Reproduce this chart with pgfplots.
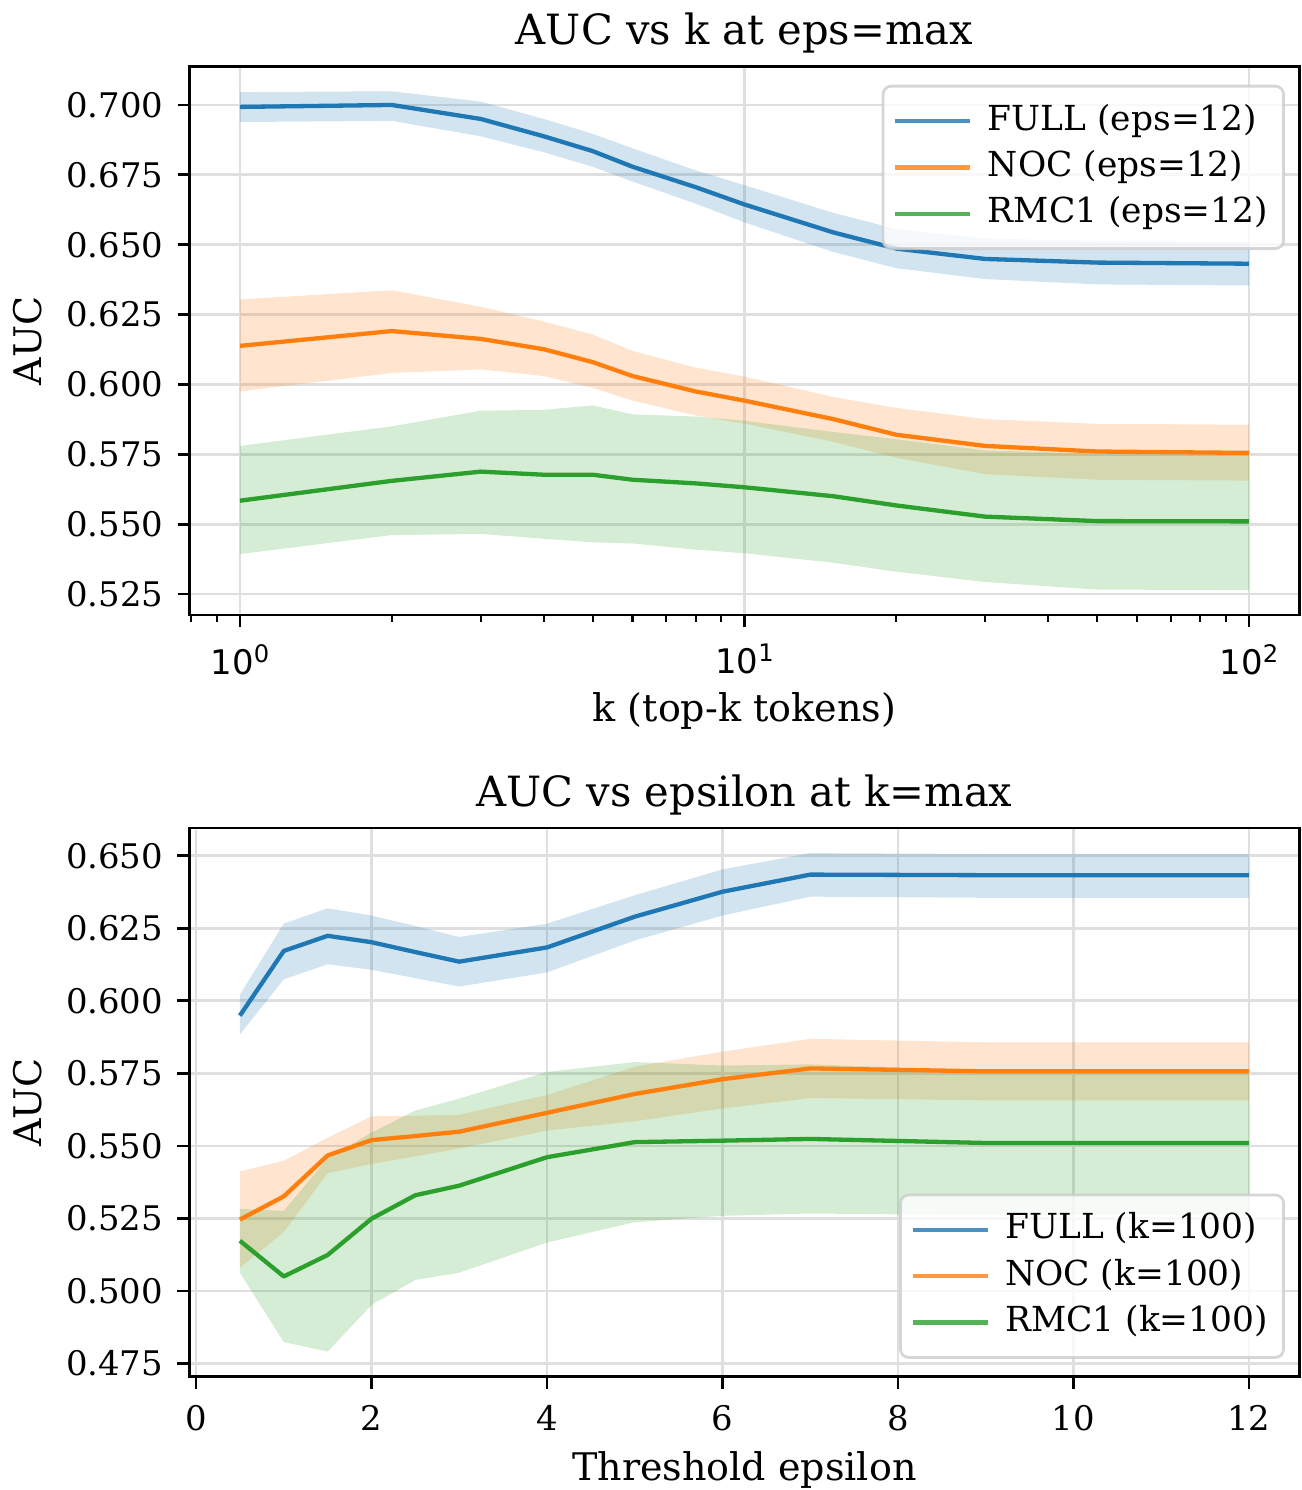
\documentclass[border=0pt]{standalone}
\usepackage{fontspec}
\setmainfont{DejaVu Serif}
\newfontfamily\dvsans{DejaVu Sans}
\usepackage{pgfplots}
\pgfplotsset{compat=1.18}
\usepackage{pgfplotstable}
\usepgfplotslibrary{fillbetween}

\definecolor{tblue}{HTML}{1F77B4}
\definecolor{torange}{HTML}{FF7F0E}
\definecolor{tgreen}{HTML}{2CA02C}
\definecolor{gridc}{HTML}{DFDFDF}
\definecolor{legc}{HTML}{CCCCCC}

\pgfplotstableread{
k fm fl fh nm nl nh rm rl rh
1 0.6993 0.6939 0.7046 0.6138 0.5975 0.6304 0.5584 0.5393 0.5780
2 0.7000 0.6943 0.7049 0.6191 0.6041 0.6337 0.5655 0.5461 0.5850
3 0.6950 0.6888 0.7012 0.6163 0.6054 0.6278 0.5688 0.5465 0.5906
4 0.6888 0.6831 0.6950 0.6126 0.6030 0.6225 0.5677 0.5448 0.5909
5 0.6835 0.6779 0.6897 0.6080 0.5988 0.6179 0.5677 0.5435 0.5925
6 0.6779 0.6726 0.6845 0.6030 0.5942 0.6120 0.5659 0.5431 0.5893
8 0.6706 0.6647 0.6766 0.5975 0.5889 0.6060 0.5646 0.5409 0.5885
10 0.6644 0.6580 0.6713 0.5942 0.5860 0.6028 0.5632 0.5396 0.5870
15 0.6544 0.6474 0.6614 0.5876 0.5795 0.5955 0.5600 0.5362 0.5830
20 0.6486 0.6416 0.6556 0.5820 0.5738 0.5916 0.5567 0.5330 0.5804
30 0.6449 0.6377 0.6522 0.5780 0.5679 0.5876 0.5527 0.5293 0.5764
50 0.6436 0.6358 0.6513 0.5760 0.5659 0.5859 0.5511 0.5266 0.5752
100 0.6432 0.6354 0.6510 0.5755 0.5656 0.5856 0.5510 0.5264 0.5755
}\topdata

\pgfplotstableread{
e fm fl fh nm nl nh rm rl rh
0.5 0.5949 0.5884 0.6021 0.5246 0.5080 0.5412 0.5173 0.5063 0.5283
1 0.6172 0.6074 0.6266 0.5326 0.5203 0.5449 0.5050 0.4824 0.5276
1.5 0.6224 0.6126 0.6319 0.5467 0.5406 0.5528 0.5124 0.4791 0.5457
2 0.6202 0.6107 0.6294 0.5520 0.5438 0.5602 0.5249 0.4952 0.5546
2.5 0.6168 0.6078 0.6258 0.5534 0.5464 0.5604 0.5330 0.5038 0.5622
3 0.6135 0.6049 0.6220 0.5549 0.5491 0.5607 0.5363 0.5063 0.5663
4 0.6184 0.6098 0.6266 0.5614 0.5553 0.5675 0.5461 0.5167 0.5755
5 0.6290 0.6208 0.6364 0.5679 0.5585 0.5773 0.5513 0.5237 0.5789
6 0.6376 0.6294 0.6453 0.5730 0.5629 0.5825 0.5518 0.5259 0.5777
7 0.6435 0.6359 0.6509 0.5767 0.5665 0.5869 0.5524 0.5267 0.5781
9 0.6433 0.6355 0.6506 0.5757 0.5657 0.5857 0.5510 0.5261 0.5759
12 0.6433 0.6355 0.6506 0.5757 0.5657 0.5857 0.5510 0.5261 0.5759
}\botdata

\pgfplotsset{
  mpl/.style={
    scale only axis, width=399.6pt, height=197.5pt,
    axis line style={line width=1pt},
    tick align=outside, tick pos=left,
    major tick length=4.3pt, minor tick length=2.5pt,
    every tick/.style={black, line width=1pt},
    every minor tick/.style={black, line width=0.75pt},
    grid=major, major grid style={gridc, line width=1pt},
    tick label style={font=\fontsize{12.2}{14}\selectfont, inner sep=0pt},
    xticklabel style={anchor=north, yshift=-6pt},
    yticklabel style={anchor=east, xshift=-5pt},
    /pgf/number format/assume math mode=true,
    yticklabel style={/pgf/number format/.cd, fixed, fixed zerofill, precision=3},
    label style={font=\fontsize{13.7}{16}\selectfont},
    title style={font=\fontsize{15}{18}\selectfont, at={(axis description cs:0.5,1)}, anchor=base, yshift=1.8pt},
    ylabel style={at={(axis description cs:-0.1329,0.5)}, anchor=base},
    legend cell align=left,
    legend image code/.code={\draw[#1, line width=1.55pt] (0pt,0pt) -- (27pt,0pt);},
    legend style={draw=legc, line width=1pt, rounded corners=3pt, fill=white,
      fill opacity=0.8, draw opacity=0.8, text opacity=1,
      font=\fontsize{12.4}{15}\selectfont,
      inner xsep=3.6pt, inner ysep=4.2pt, row sep=0pt,
      /tikz/every odd column/.append style={column sep=3.6pt},
      nodes={text height=9.5pt, text depth=3pt, inner ysep=2.1pt}},
  },
  band/.style={draw=none, forget plot},
  mline/.style={line width=1.55pt, mark=none, line join=round},
}

\begin{document}
\begin{tikzpicture}
\begin{axis}[mpl, at={(0pt,0pt)}, anchor=south west,
  xmode=log, xmin=0.7943, xmax=125.9, ymin=0.5175, ymax=0.7138,
  xtick={1,10,100},
  xticklabels={{\dvsans 10\raisebox{4.3pt}{\fontsize{8.7}{9}\selectfont 0}},
               {\dvsans 10\raisebox{4.3pt}{\fontsize{8.7}{9}\selectfont 1}},
               {\dvsans 10\raisebox{4.3pt}{\fontsize{8.7}{9}\selectfont 2}}},
  minor xtick={0.8,0.9,2,3,4,5,6,7,8,9,20,30,40,50,60,70,80,90},
  ytick={0.525,0.550,0.575,0.600,0.625,0.650,0.675,0.700},
  title={AUC vs k at eps=max},
  xlabel={k (top-k tokens)}, ylabel={AUC},
  xlabel style={at={(axis description cs:0.5,0)}, anchor=base, yshift=-38.4pt},
  legend style={at={(axis description cs:1,1)}, anchor=north east, xshift=-5.2pt, yshift=-6.6pt},
]
\addplot[band, name path=tfh] table[x=k,y=fh]{\topdata};
\addplot[band, name path=tfl] table[x=k,y=fl]{\topdata};
\addplot[fill=tblue, fill opacity=0.2, draw=none, forget plot] fill between[of=tfh and tfl];
\addplot[band, name path=tnh] table[x=k,y=nh]{\topdata};
\addplot[band, name path=tnl] table[x=k,y=nl]{\topdata};
\addplot[fill=torange, fill opacity=0.2, draw=none, forget plot] fill between[of=tnh and tnl];
\addplot[band, name path=trh] table[x=k,y=rh]{\topdata};
\addplot[band, name path=trl] table[x=k,y=rl]{\topdata};
\addplot[fill=tgreen, fill opacity=0.2, draw=none, forget plot] fill between[of=trh and trl];
\addplot[mline, tblue] table[x=k,y=fm]{\topdata};
\addlegendentry{FULL (eps=12)}
\addplot[mline, torange] table[x=k,y=nm]{\topdata};
\addlegendentry{NOC (eps=12)}
\addplot[mline, tgreen] table[x=k,y=rm]{\topdata};
\addlegendentry{RMC1 (eps=12)}
\end{axis}

\begin{axis}[mpl, at={(0pt,-274.2pt)}, anchor=south west,
  xmin=-0.075, xmax=12.575, ymin=0.47046, ymax=0.65954,
  xtick={0,2,4,6,8,10,12},
  ytick={0.475,0.500,0.525,0.550,0.575,0.600,0.625,0.650},
  title={AUC vs epsilon at k=max},
  xlabel={Threshold epsilon}, ylabel={AUC},
  xlabel style={at={(axis description cs:0.5,0)}, anchor=base, yshift=-37.2pt},
  legend style={at={(axis description cs:1,0)}, anchor=south east, xshift=-5.2pt, yshift=6.4pt},
]
\addplot[band, name path=bfh] table[x=e,y=fh]{\botdata};
\addplot[band, name path=bfl] table[x=e,y=fl]{\botdata};
\addplot[fill=tblue, fill opacity=0.2, draw=none, forget plot] fill between[of=bfh and bfl];
\addplot[band, name path=bnh] table[x=e,y=nh]{\botdata};
\addplot[band, name path=bnl] table[x=e,y=nl]{\botdata};
\addplot[fill=torange, fill opacity=0.2, draw=none, forget plot] fill between[of=bnh and bnl];
\addplot[band, name path=brh] table[x=e,y=rh]{\botdata};
\addplot[band, name path=brl] table[x=e,y=rl]{\botdata};
\addplot[fill=tgreen, fill opacity=0.2, draw=none, forget plot] fill between[of=brh and brl];
\addplot[mline, tblue] table[x=e,y=fm]{\botdata};
\addlegendentry{FULL (k=100)}
\addplot[mline, torange] table[x=e,y=nm]{\botdata};
\addlegendentry{NOC (k=100)}
\addplot[mline, tgreen] table[x=e,y=rm]{\botdata};
\addlegendentry{RMC1 (k=100)}
\end{axis}
\pgfresetboundingbox
\useasboundingbox (-68.2pt,-315pt) rectangle (400.5pt,221.4pt);
\end{tikzpicture}
\end{document}
